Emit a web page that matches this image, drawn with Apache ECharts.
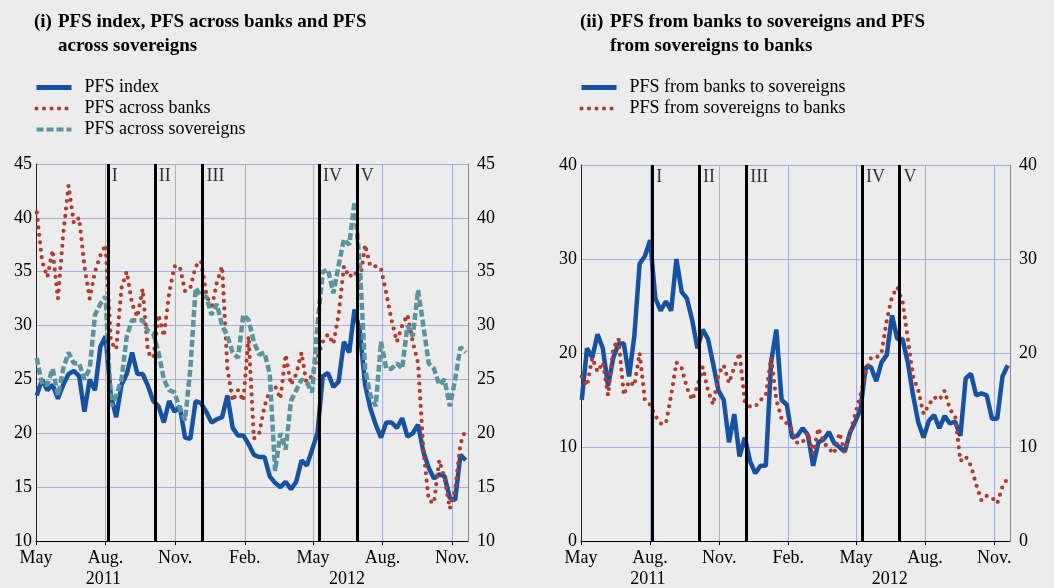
<!DOCTYPE html>
<html>
<head>
<meta charset="utf-8">
<title>PFS</title>
<script src="https://cdn.jsdelivr.net/npm/echarts@6/dist/echarts.min.js"></script>
<style>
  html, body { margin: 0; padding: 0; background: #ececec; }
  #main { width: 1054px; height: 588px; }
</style>
</head>
<body>
<div id="main"></div>
<script>
// weekly readings, first week starting 2011-05-02
const firstWeek = '2011-05-02'

// (i) left panel
const pfsIndex = [23.5, 25, 24, 24.5, 23.2, 24.5, 25.5, 25.8, 25.3, 22,
  25, 24, 28, 29, 23.5, 21.5, 24.5, 25.5, 27.5, 25.5,
  25.5, 24.4, 23, 22.5, 21, 23, 22, 22.5, 19.6, 19.5,
  23, 22.8, 22, 21, 21.3, 21.5, 23.5, 20.5, 19.8, 19.8,
  19, 18, 17.8, 17.8, 16, 15.4, 15, 15.5, 14.8, 15.5,
  17.5, 17, 18.5, 20, 25.3, 25.6, 24.3, 24.8, 28.5, 27.5,
  31.5, 29.5, 24.5, 22.3, 20.8, 19.6, 21, 21, 20.5, 21.4,
  19.7, 20, 20.8, 18.3, 16.8, 15.8, 16.2, 16, 14, 13.8,
  18, 17.5]
const pfsBanks = [40.5, 36, 34.5, 37, 32.5, 38.5, 43, 39.5, 40, 35.5,
  32.5, 35, 36.5, 37.5, 28.5, 27.8, 33.5, 35, 32, 30.8,
  33.4, 27.5, 27, 31, 29, 33, 35.5, 35.5, 33.2, 33.5,
  35.5, 36, 33, 31.5, 34, 35.5, 26, 23, 24, 23,
  29, 19.5, 20, 22.5, 24, 24.4, 23.2, 27.3, 24.5, 25.5,
  27.5, 24.4, 25.5, 27, 28.5, 29.2, 28.3, 31, 35.5, 34.5,
  35, 34, 37.5, 35.5, 35.5, 35.3, 33, 30.5, 28.5, 30,
  31, 28.5, 26.5, 18.5, 13.8, 13.5, 17.5, 15.8, 13, 14.8,
  19, 20.4]
const pfsSovereigns = [27, 24.5, 24.5, 26, 23.5, 26, 27.5, 26.5, 26.5, 25,
  26, 31, 32, 32.7, 22.5, 23.5, 25, 29, 30.5, 30.5,
  30.5, 29.5, 29.3, 27.5, 25, 24, 23.8, 22.3, 21.2, 26,
  33.5, 32.7, 32.7, 31, 32, 30, 29, 27.5, 27, 31,
  30.5, 28.5, 27.3, 27.5, 25.5, 16.5, 20, 18.5, 23, 24,
  25, 24.7, 23.8, 30, 35, 35.2, 33, 35.6, 38, 37.5,
  41.5, 35.6, 26, 23.5, 22.5, 28.5, 26, 26, 26.5, 26,
  30, 29, 33.3, 30, 26.5, 26, 24.5, 25, 22.5, 25,
  28, 27.5]

// (ii) right panel
const banksToSov = [15, 20.5, 19.5, 22, 20.5, 16.5, 19.5, 21, 21, 17.5,
  21.8, 29.5, 30.3, 32, 25.8, 24.5, 25.5, 24.5, 30, 26.5,
  25.8, 23.5, 20.5, 22.5, 21.5, 18.8, 16, 15, 10.5, 13.5,
  9, 11, 8.5, 7.2, 8, 8, 19, 22.5, 15, 14.5,
  11, 11.2, 12, 11.3, 8, 10.5, 10.8, 11.6, 10.4, 10,
  9.5, 11.5, 12.7, 14, 18.5, 18.5, 17, 19, 19.8, 24,
  21.5, 21.5, 19, 15.5, 12.6, 11, 12.8, 13.4, 12, 13.3,
  12.5, 12.7, 11.2, 17.3, 17.8, 15.5, 15.7, 15.5, 13, 13,
  17.5, 18.7]
const sovToBanks = [17.5, 16.5, 19.5, 18, 19, 15.5, 20.5, 21.5, 15.5, 17,
  16.5, 20, 15, 14.5, 13.3, 12.5, 12.5, 15.5, 19, 18.4,
  16.3, 15, 16.5, 18.5, 16, 14.5, 17.8, 18.7, 16.8, 18.5,
  20, 14.8, 14.3, 14.3, 15, 15.5, 19.5, 15, 13, 12.5,
  11.8, 10.4, 10.5, 11.5, 9.3, 12, 10.5, 9.8, 9.3, 11.5,
  9.5, 11.5, 13.5, 15.5, 18, 19.5, 19.5, 20, 23.5, 26,
  27, 25.5, 21.5, 17.5, 16, 13.5, 14.5, 15.3, 15, 16,
  14, 13.3, 8.5, 9, 8, 6, 4.3, 4.8, 4.6, 4,
  5.8, 6.7]

// event lines I-V
const eventNames = ['I', 'II', 'III', 'IV', 'V']
const eventDates = ['2011-08-04', '2011-10-05', '2011-12-07', '2012-05-09', '2012-06-28']

const xMin = '2011-05-01'
const xMax = '2012-11-22'
const monthTicks = ['2011-05-01', '2011-08-01', '2011-11-01', '2012-02-01', '2012-05-01', '2012-08-01', '2012-11-01']
const yearTicks = ['2011-07-29', '2012-06-15']
const monthNames = ['Jan.', 'Feb.', 'Mar.', 'Apr.', 'May', 'Jun.', 'Jul.', 'Aug.', 'Sep.', 'Oct.', 'Nov.', 'Dec.']

const FONT = '"Liberation Serif", "Times New Roman", serif'
const GRID_COLOR = '#a6ade3'
const BLUE = '#1751a1'
const RED = '#b23a2e'
const TEAL = '#5c949e'

const BLUE_LINE = { color: BLUE, width: 4.5 }
const RED_LINE = { color: RED, width: 4.2, type: [0, 7.5], cap: 'round' }
const TEAL_LINE = { color: TEAL, width: 4.5, type: [7, 3] }

function day(s) {
  const p = s.split('-')
  return new Date(+p[0], +p[1] - 1, +p[2]).getTime()
}

const p0 = firstWeek.split('-')
const weeks = pfsIndex.map((_, i) => new Date(+p0[0], +p0[1] - 1, +p0[2] + 7 * i).getTime())
const pairs = (vals) => vals.map((v, i) => [weeks[i], v])

// x axes are plain value axes holding timestamps, ticks placed on month starts
function monthAxis(g) {
  return {
    type: 'value', gridIndex: g, min: day(xMin), max: day(xMax),
    axisLine: { lineStyle: { color: '#000', width: 1 } },
    axisTick: { show: true, customValues: monthTicks.map(day), length: 4, lineStyle: { color: '#000' } },
    axisLabel: {
      customValues: monthTicks.map(day),
      formatter: (v) => monthNames[new Date(v).getMonth()],
      color: '#000', fontFamily: FONT, fontSize: 18, margin: 8
    },
    splitLine: { show: true, lineStyle: { color: GRID_COLOR, width: 1 } }
  }
}
function yearAxis(g) {
  return {
    type: 'value', gridIndex: g, min: day(xMin), max: day(xMax), position: 'bottom', offset: 21,
    axisLine: { show: false }, axisTick: { show: false }, splitLine: { show: false },
    axisLabel: {
      customValues: yearTicks.map(day),
      formatter: (v) => String(new Date(v).getFullYear()),
      color: '#000', fontFamily: FONT, fontSize: 18, margin: 8
    }
  }
}
function valueAxis(g, pos, min, max, interval) {
  return {
    type: 'value', gridIndex: g, position: pos, min: min, max: max, interval: interval,
    axisLine: { show: true, lineStyle: { color: pos === 'left' ? '#222' : '#888', width: 1 } },
    axisTick: { show: false },
    axisLabel: { color: '#000', fontFamily: FONT, fontSize: 18, margin: pos === 'left' ? 4 : 9 },
    splitLine: { show: pos === 'left', lineStyle: { color: GRID_COLOR, width: 1 } }
  }
}

function lineSeries(name, x, y, vals, style) {
  return {
    name: name, type: 'line', xAxisIndex: x, yAxisIndex: y, data: pairs(vals),
    showSymbol: false, symbol: 'none', color: style.color,
    lineStyle: style
  }
}
function events(x, y, top) {
  return {
    name: 'events', type: 'scatter', xAxisIndex: x, yAxisIndex: y, z: 5,
    symbolSize: 0, silent: true,
    data: eventDates.map((d, k) => ({ value: [day(d), top], name: eventNames[k] })),
    label: {
      show: true, formatter: '{b}', position: 'right', distance: 4, offset: [0, 12],
      color: '#000', fontFamily: FONT, fontSize: 18
    },
    markLine: {
      silent: true, symbol: 'none', animation: false,
      label: { show: false },
      lineStyle: { color: '#000', width: 3, type: 'solid' },
      data: eventDates.map((d) => ({ xAxis: day(d) }))
    }
  }
}

const titleStyle = { fontFamily: FONT, fontSize: 19, fontWeight: 'bold', lineHeight: 24, color: '#000' }
const legendStyle = { fontFamily: FONT, fontSize: 18, lineHeight: 21, color: '#000', padding: [0, 0, 0, 8] }
const legendItem = (name, style) => ({ name: name, lineStyle: Object.assign({}, style, { width: style === BLUE_LINE ? 5 : 4.2 }) })

const chart = echarts.init(document.getElementById('main'))
const option = {
  backgroundColor: '#ececec',
  animation: false,
  title: [
    { text: '(i)', left: 34, top: 10, padding: 0, textStyle: titleStyle },
    { text: 'PFS index, PFS across banks and PFS\nacross sovereigns', left: 58, top: 10, padding: 0, textStyle: titleStyle },
    { text: '(ii)', left: 580, top: 10, padding: 0, textStyle: titleStyle },
    { text: 'PFS from banks to sovereigns and PFS\nfrom sovereigns to banks', left: 610, top: 10, padding: 0, textStyle: titleStyle }
  ],
  legend: [
    {
      left: 34, top: 77, padding: 0, orient: 'vertical', itemWidth: 35, itemHeight: 14, itemGap: 0,
      itemStyle: { opacity: 0 },
      data: [legendItem('PFS index', BLUE_LINE), legendItem('PFS across banks', RED_LINE), legendItem('PFS across sovereigns', TEAL_LINE)],
      textStyle: legendStyle
    },
    {
      left: 579, top: 77, padding: 0, orient: 'vertical', itemWidth: 35, itemHeight: 14, itemGap: 0,
      itemStyle: { opacity: 0 },
      data: [legendItem('PFS from banks to sovereigns', BLUE_LINE), legendItem('PFS from sovereigns to banks', RED_LINE)],
      textStyle: legendStyle
    }
  ],
  grid: [
    { left: 36, top: 164, width: 432, height: 378 },
    { left: 581, top: 165, width: 429, height: 379 }
  ],
  xAxis: [monthAxis(0), yearAxis(0), monthAxis(1), yearAxis(1)],
  yAxis: [
    valueAxis(0, 'left', 10, 45, 5),
    valueAxis(0, 'right', 10, 45, 5),
    valueAxis(1, 'left', 0, 40, 10),
    valueAxis(1, 'right', 0, 40, 10)
  ],
  series: [
    lineSeries('PFS index', 0, 0, pfsIndex, BLUE_LINE),
    lineSeries('PFS across banks', 0, 0, pfsBanks, RED_LINE),
    lineSeries('PFS across sovereigns', 0, 0, pfsSovereigns, TEAL_LINE),
    events(0, 0, 45),
    lineSeries('PFS from banks to sovereigns', 2, 2, banksToSov, BLUE_LINE),
    lineSeries('PFS from sovereigns to banks', 2, 2, sovToBanks, RED_LINE),
    events(2, 2, 40)
  ]
}
chart.setOption(option)
</script>
</body>
</html>
